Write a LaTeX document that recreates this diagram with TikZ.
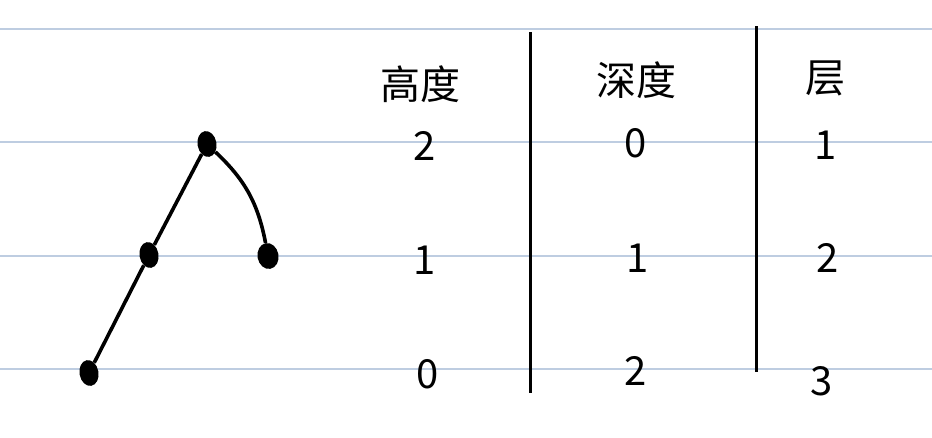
\documentclass[tikz,border=0pt]{standalone}
\usepackage{fontspec}
\newfontfamily\cjk{Noto Sans CJK SC}
\usetikzlibrary{shapes.geometric}

\tikzset{
  ruled/.style={draw={rgb,255:red,190;green,205;blue,225}, line width=1.4pt},
  dot/.style={ellipse, fill=black, inner sep=0pt, minimum width=19pt, minimum height=26pt, rotate=10},
  head/.style={font=\cjk\fontsize{40}{40}\selectfont},
  num/.style={font=\cjk\fontsize{40}{40}\selectfont},
}

\begin{document}
\begin{tikzpicture}[x=1pt, y=-1pt]
            \useasboundingbox (0, 0) rectangle (932, 437);

            \draw[ruled] (0, 29) -- (932, 29);
            \draw[ruled] (0, 142) -- (932, 142);
            \draw[ruled] (0, 256) -- (932, 256);
            \draw[ruled] (0, 369) -- (932, 369);

            % tree
            \node[dot] (root) at (207, 144) {};
            \node[dot] (lft) at (149, 255) {};
            \node[dot, minimum width=21pt] (rgt) at (268, 256) {};
            \node[dot] (leaf) at (89, 373) {};
            \draw[line width=3.6pt] (root) -- (lft);
            \draw[line width=3.6pt] (lft) -- (leaf);
            \draw[line width=3.6pt] (root) to[bend left=18] (rgt);

            % table
            \draw[line width=3pt] (530, 32) -- (530, 393);
            \draw[line width=3pt] (756, 26) -- (756, 372);

            \node[head] (hgt) at (420, 84) {高度};
            \node[head] (dep) at (636, 80) {深度};
            \node[head] (lvl) at (825, 78) {层};

            \node[num] (h2) at (425, 146) {2};
            \node[num] (h1) at (425, 260) {1};
            \node[num] (h0) at (428, 374) {0};
            \node[num] (d0) at (636, 143) {0};
            \node[num] (d1) at (638, 258) {1};
            \node[num] (d2) at (636, 371) {2};
            \node[num] (l1) at (826, 145) {1};
            \node[num] (l2) at (828, 258) {2};
            \node[num] (l3) at (822, 381) {3};
            \end{tikzpicture}
\end{document}
